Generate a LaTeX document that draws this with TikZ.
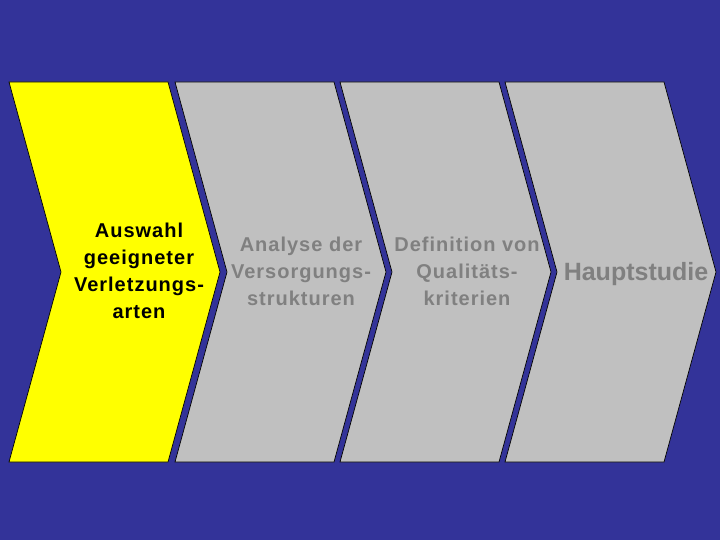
\documentclass[tikz,border=0pt]{standalone}
\usepackage{fontspec}
\setmainfont{Liberation Sans}
\newfontfamily\stepfont[LetterSpace=5]{Liberation Sans}
\definecolor{bgblue}{RGB}{51,51,153}
\definecolor{stepyellow}{RGB}{255,255,0}
\definecolor{stepgray}{RGB}{192,192,192}
\definecolor{textgray}{RGB}{128,128,128}
\tikzset{chevron/.style={draw=black, line width=0.7pt, line join=miter},
  steptext/.style={align=center, inner sep=0pt, font=\stepfont\bfseries\fontsize{20}{27}\selectfont}}

\begin{document}
\begin{tikzpicture}[x=1pt,y=-1pt]
\useasboundingbox (0,0) rectangle (720,540);
\fill[bgblue] (0,0) rectangle (720,540);
\foreach \l/\c in {9/stepyellow,175/stepgray,340/stepgray,505/stepgray}
  \filldraw[chevron, fill=\c] (\l,82) -- ++(159,0) -- ++(52,190) -- ++(-52,190) -- ++(-159,0) -- ++(52,-190) -- cycle;
\node[steptext] (auswahl) at (139,271) {Auswahl\\geeigneter\\Verletzungs-\\arten};
\node[steptext, textgray] (analyse) at (301,271) {Analyse der\\Versorgungs-\\strukturen};
\node[steptext, textgray] (definition) at (467,271) {Definition von\\Qualitäts-\\kriterien};
\node[textgray, anchor=base, inner sep=0pt, font=\bfseries\fontsize{25}{30}\selectfont] (hauptstudie) at (636,280) {Hauptstudie};
\end{tikzpicture}
\end{document}
